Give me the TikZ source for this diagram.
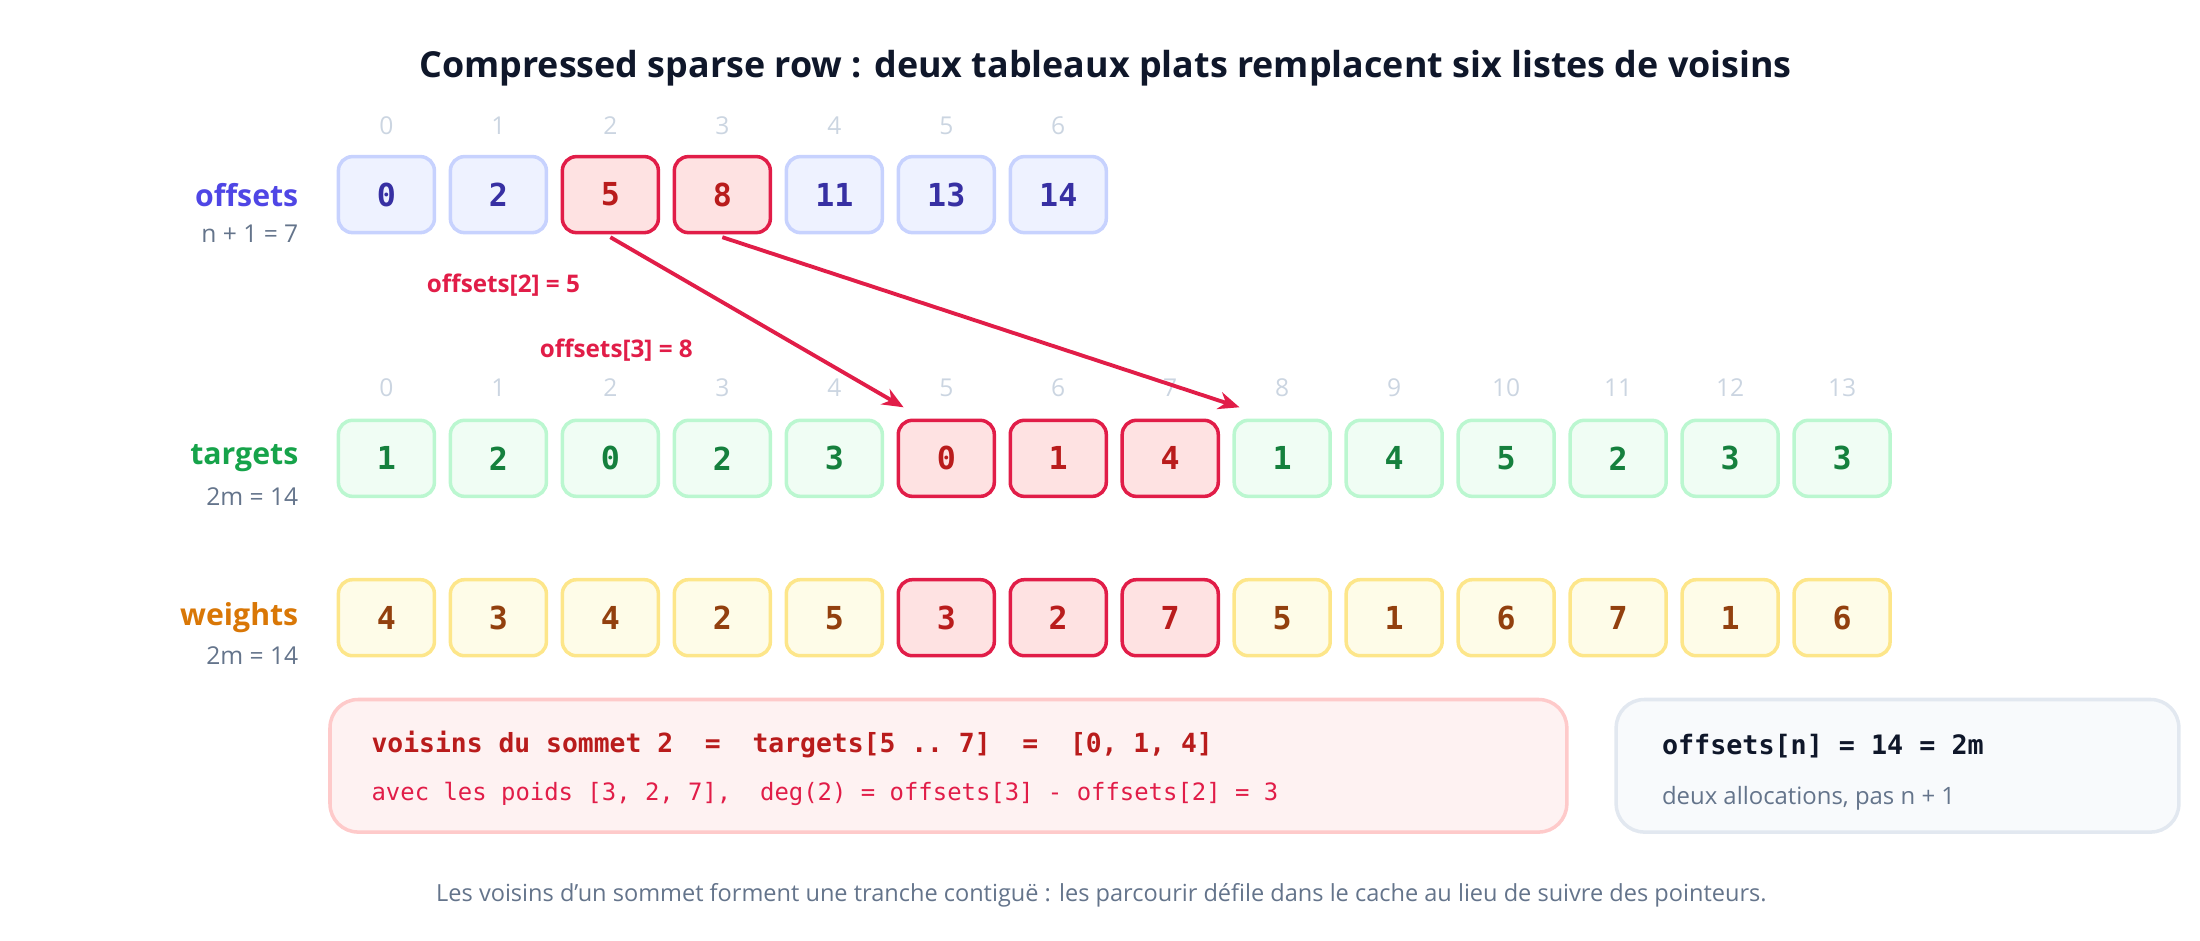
\documentclass[tikz,border=0pt]{standalone}
\usepackage{fontspec}
\setmainfont{Open Sans}
\setmonofont{DejaVu Sans Mono}
\usetikzlibrary{calc, arrows.meta}
\definecolor{ink}{HTML}{0F172A}
\definecolor{muted}{HTML}{64748B}
\definecolor{idx}{HTML}{CBD5E1}
\definecolor{bfill}{HTML}{EEF2FF}\definecolor{bline}{HTML}{C7D2FE}\definecolor{btext}{HTML}{3730A3}\definecolor{blab}{HTML}{4F46E5}
\definecolor{gfill}{HTML}{F0FDF4}\definecolor{gline}{HTML}{BBF7D0}\definecolor{gtext}{HTML}{15803D}\definecolor{glab}{HTML}{16A34A}
\definecolor{yfill}{HTML}{FEFCE8}\definecolor{yline}{HTML}{FDE68A}\definecolor{ytext}{HTML}{92400E}\definecolor{ylab}{HTML}{D97706}
\definecolor{rfill}{HTML}{FEE2E2}\definecolor{rline}{HTML}{E11D48}\definecolor{rtext}{HTML}{B91C1C}
\definecolor{pfill}{HTML}{FEF2F2}\definecolor{pline}{HTML}{FECACA}
\definecolor{sfill}{HTML}{F8FAFC}\definecolor{sline}{HTML}{E2E8F0}
\tikzset{
  cell/.style={draw, rounded corners=4pt, line width=1pt, minimum width=0.96cm, minimum height=0.76cm, font=\ttfamily\bfseries\fontsize{9}{10}\selectfont},
  blue/.style={cell, fill=bfill, draw=bline, text=btext},
  green/.style={cell, fill=gfill, draw=gline, text=gtext},
  yellow/.style={cell, fill=yfill, draw=yline, text=ytext},
  hot/.style={cell, fill=rfill, draw=rline, text=rtext},
  index/.style={text=idx, font=\fontsize{7}{8}\selectfont},
  rowname/.style={anchor=east, inner sep=0pt, font=\bfseries\fontsize{8.6}{10}\selectfont},
  rowsize/.style={anchor=east, inner sep=0pt, text=muted, font=\fontsize{7}{8}\selectfont},
  ptr/.style={draw=rline, line width=1.1pt, -{Stealth[length=6pt,width=5pt]}},
  ptrlabel/.style={text=rline, font=\bfseries\fontsize{6.9}{8}\selectfont},
  note/.style={anchor=west, inner sep=0pt}
}
\begin{document}
\begin{tikzpicture}[x=0.0141cm, y=-0.0141cm]
  \useasboundingbox (0,0) rectangle (1560,667);
  \node[text=ink, font=\bfseries\fontsize{10.2}{12}\selectfont] (title) at (784,48) {Compressed sparse row : deux tableaux plats remplacent six listes de voisins};
  % offsets
  \node[rowname, text=blab] (offlab) at (212,138) {offsets};
  \node[rowsize] (offsize) at (212,166) {n + 1 = 7};
  \foreach \v [count=\i from 0] in {0,2,5,8,11,13,14} {
    \pgfmathsetmacro{\cx}{274+79.4*\i}
    \node[index] (oi\i) at (\cx,89) {\i};
    \ifnum\i=2 \def\st{hot}\else\ifnum\i=3 \def\st{hot}\else\def\st{blue}\fi\fi
    \node[\st] (o\i) at (\cx,138) {\v};
  }
  % targets and weights
  \node[rowname, text=glab] (tlab) at (212,325) {targets};
  \node[rowsize] (tsize) at (212,352) {2m = 14};
  \node[rowname, text=ylab] (wlab) at (212,438) {weights};
  \node[rowsize] (wsize) at (212,465) {2m = 14};
  \foreach \t/\w [count=\i from 0] in {1/4,2/3,0/4,2/2,3/5,0/3,1/2,4/7,1/5,4/1,5/6,2/7,3/1,3/6} {
    \pgfmathsetmacro{\cx}{274+79.4*\i}
    \node[index] (ti\i) at (\cx,275) {\i};
    \ifnum\i<5 \def\sg{green}\def\sy{yellow}\else\ifnum\i>7 \def\sg{green}\def\sy{yellow}\else\def\sg{hot}\def\sy{hot}\fi\fi
    \node[\sg] (t\i) at (\cx,325) {\t};
    \node[\sy] (w\i) at (\cx,438) {\w};
  }
  % pointers
  \coordinate (p5) at ($(t5.north west)+(5,-8)$);
  \coordinate (p8) at ($(t8.north west)+(5,-8)$);
  \draw[ptr] ($(o2.south)+(0,2)$) -- (p5);
  \draw[ptr] ($(o3.south)+(0,2)$) -- (p8);
  \node[ptrlabel] (l2) at (357,202) {offsets[2] = 5};
  \node[ptrlabel] (l3) at (437,248) {offsets[3] = 8};
  % summary boxes
  \draw[fill=pfill, draw=pline, line width=1pt, rounded corners=8pt] (234,496) rectangle (1111,590);
  \node[note, text=rtext, font=\ttfamily\bfseries\fontsize{7.5}{9}\selectfont] (n1) at (263,528) {voisins du sommet 2 \ = \ targets[5 .. 7] \ = \ [0, 1, 4]};
  \node[note, text=rline, font=\ttfamily\fontsize{6.8}{8}\selectfont] (n2) at (263,563) {avec les poids [3, 2, 7], \ deg(2) = offsets[3] - offsets[2] = 3};
  \draw[fill=sfill, draw=sline, line width=1pt, rounded corners=8pt] (1146,496) rectangle (1545,590);
  \node[note, text=ink, font=\ttfamily\bfseries\fontsize{7.6}{9}\selectfont] (s1) at (1178,529) {offsets[n] = 14 = 2m};
  \node[note, text=muted, font=\fontsize{6.8}{8}\selectfont] (s2) at (1178,566) {deux allocations, pas n + 1};
  \node[text=muted, font=\fontsize{6.7}{8}\selectfont] (foot) at (781,635) {Les voisins d’un sommet forment une tranche contiguë : les parcourir défile dans le cache au lieu de suivre des pointeurs.};
\end{tikzpicture}
\end{document}
